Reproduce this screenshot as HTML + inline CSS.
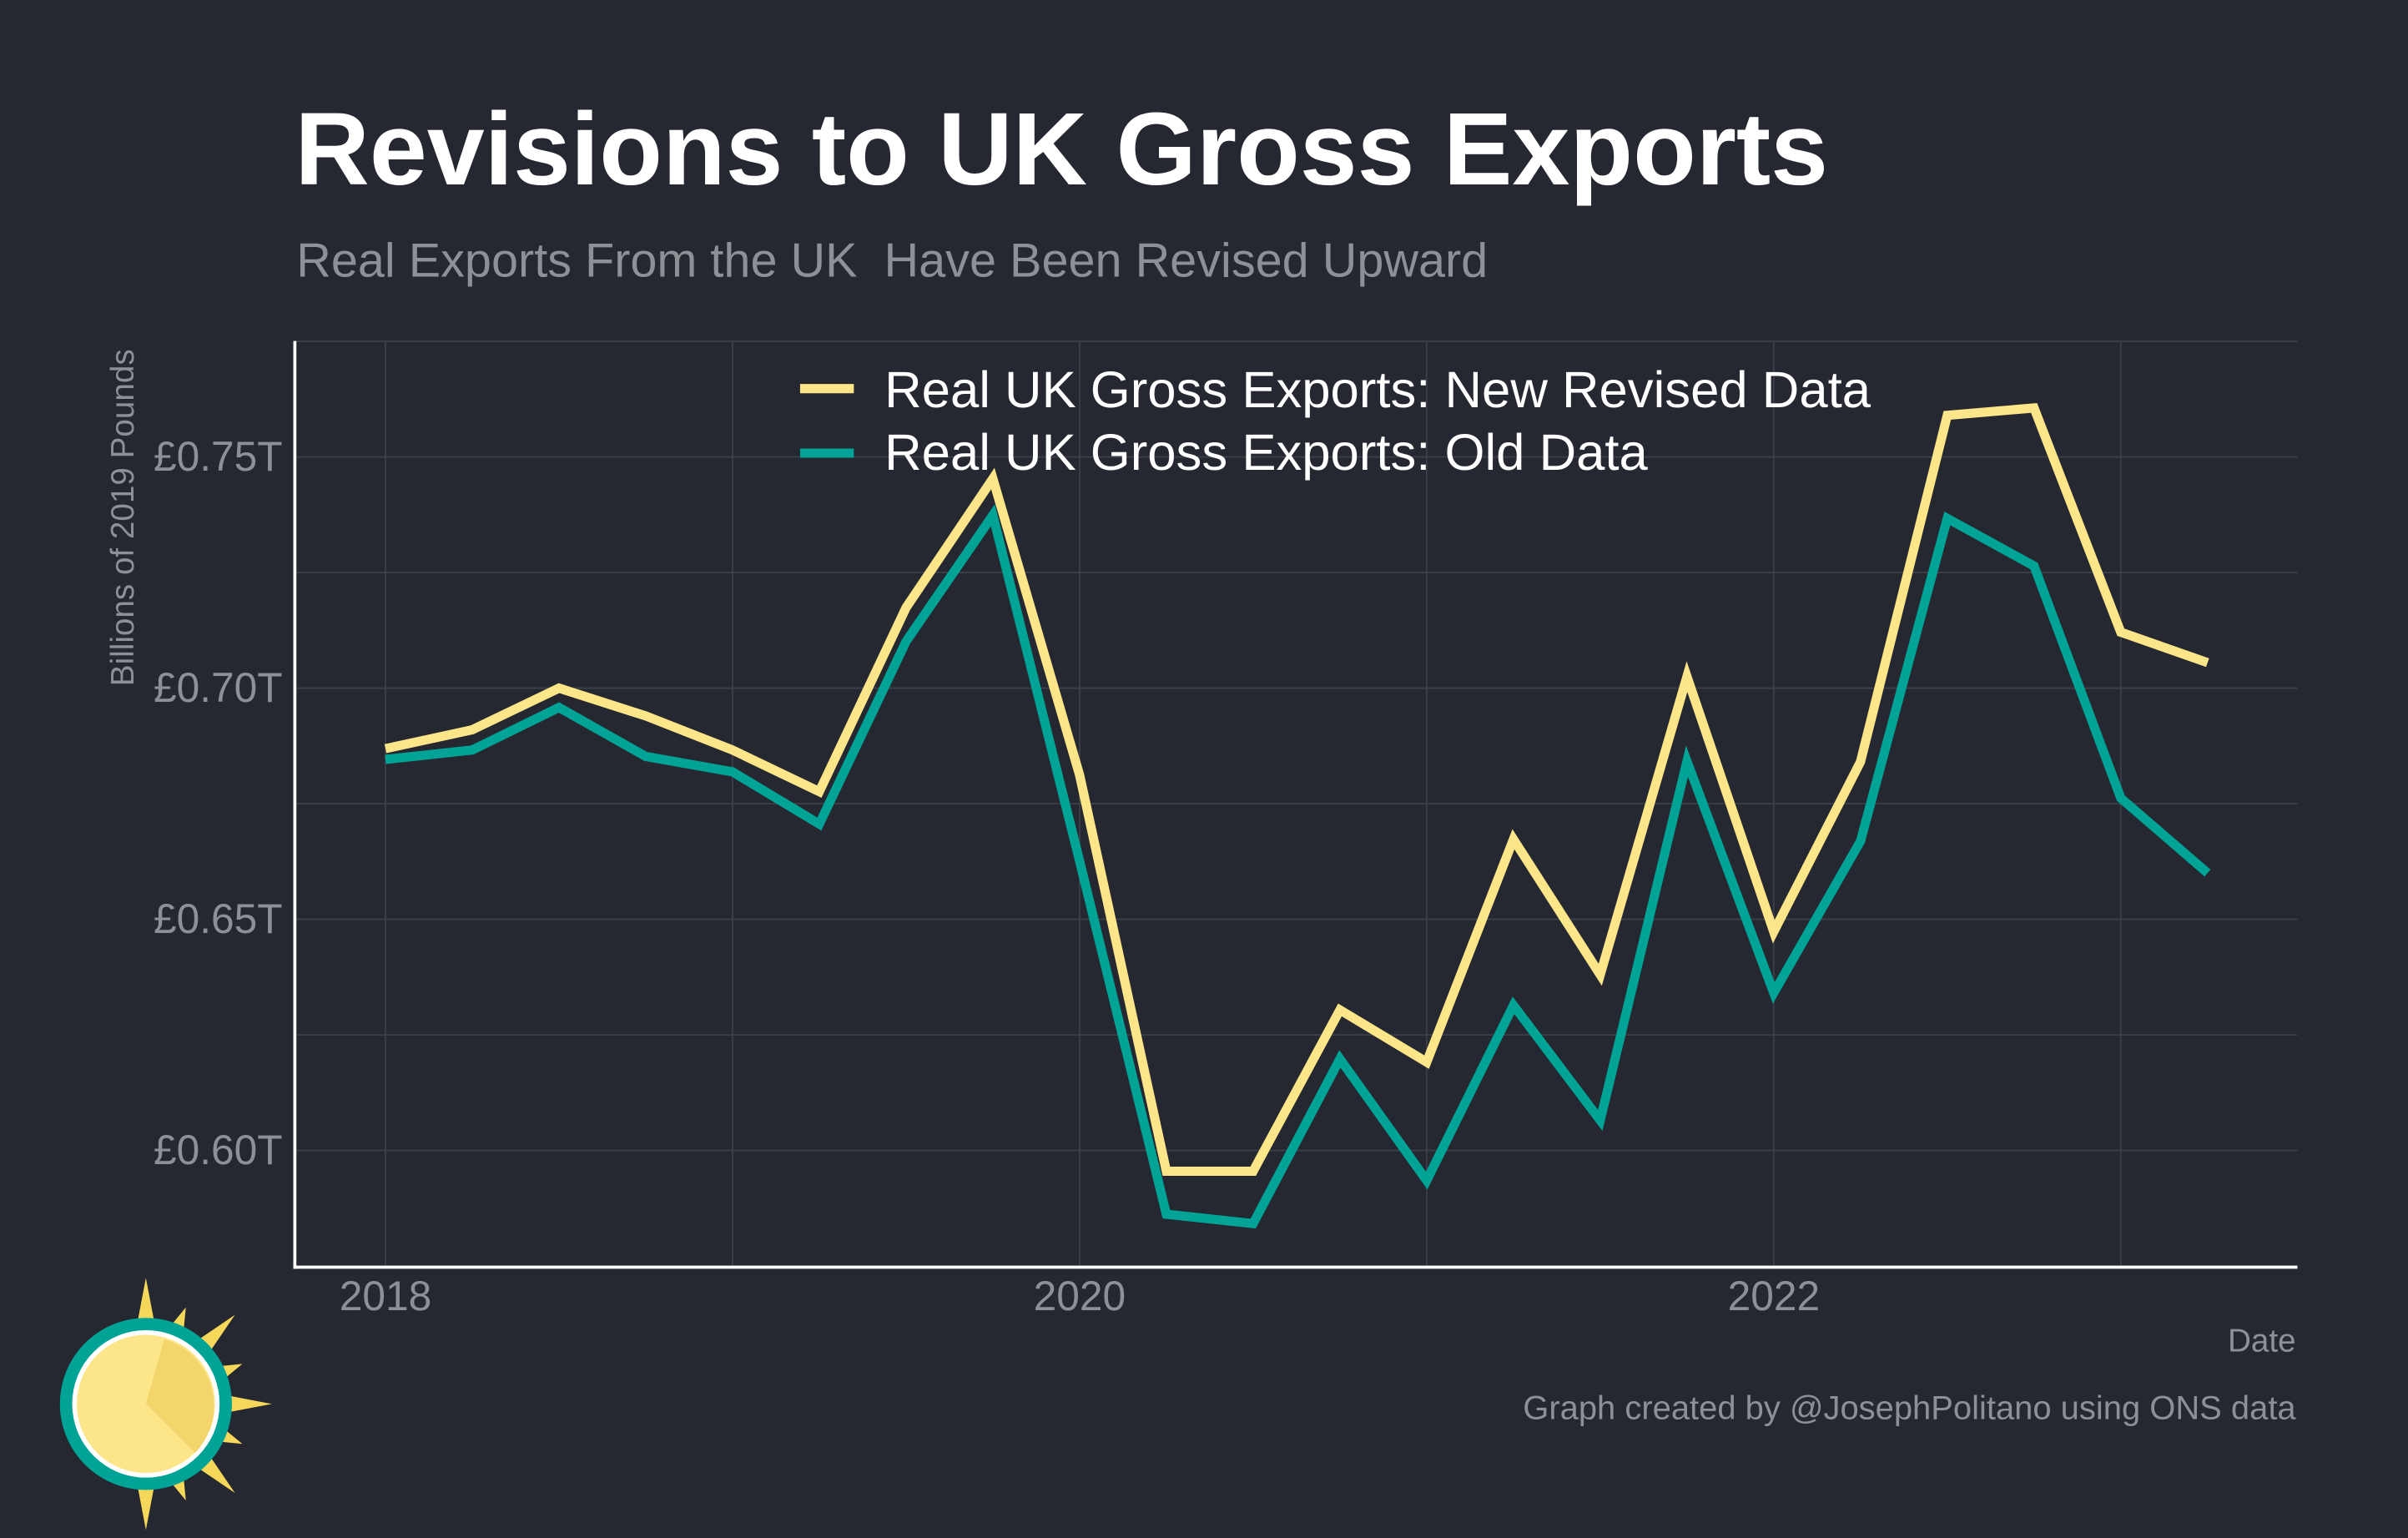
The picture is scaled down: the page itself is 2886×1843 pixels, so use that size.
<!DOCTYPE html>
<html><head><meta charset="utf-8"><style>
html,body{margin:0;padding:0;background:#252830;}
svg{display:block;}
text{font-family:"Liberation Sans",Arial,sans-serif;white-space:pre;}
</style></head><body>
<svg id="chart" width="2886" height="1843" viewBox="0 0 1568 1001.3" preserveAspectRatio="none" xmlns="http://www.w3.org/2000/svg" xml:space="preserve">
<rect x="0" y="0" width="1568" height="1002" fill="#252830"/>
<text x="192" y="120" font-size="67.3" font-weight="bold" fill="#ffffff">Revisions to UK Gross Exports</text>
<text x="193" y="180" font-size="31.3" fill="#8e9096">Real Exports From the UK  Have Been Revised Upward</text>
<g id="grid"></g>
<g id="series"></g>
<line x1="192" y1="222" x2="192" y2="826" stroke="#ffffff" stroke-width="2"/>
<line x1="191" y1="825" x2="1496" y2="825" stroke="#ffffff" stroke-width="2"/>
<g id="yticks"></g>
<g id="xticks"></g>
<text transform="translate(87,337) rotate(-90)" text-anchor="middle" font-size="21" fill="#8e9096">Billions of 2019 Pounds</text>
<text x="1495" y="880" text-anchor="end" font-size="21" fill="#8e9096">Date</text>
<text x="1495" y="924" text-anchor="end" font-size="21.7" fill="#8e9096">Graph created by @JosephPolitano using ONS data</text>
<g>
<line x1="521" y1="253" x2="556" y2="253" stroke="#fde68a" stroke-width="6"/>
<text x="576" y="265" font-size="33.5" fill="#ffffff">Real UK Gross Exports: New Revised Data</text>
<line x1="521" y1="295" x2="556" y2="295" stroke="#00a396" stroke-width="6"/>
<text x="576" y="306" font-size="33.5" fill="#ffffff">Real UK Gross Exports: Old Data</text>
</g>
<g>
<g id="rays" fill="#f5d75a"></g>
<circle cx="95" cy="914" r="56" fill="#00a396"/>
<circle cx="95" cy="914" r="48" fill="#ffffff"/>
<circle cx="95" cy="914" r="45" fill="#fde68a"/>
<path d="M95,914 L107,872 A45,45 0 0 1 127,946 Z" fill="#f2d66b"/>
</g>
</svg>
<script>
const quarters=["2018Q1","2018Q2","2018Q3","2018Q4","2019Q1","2019Q2","2019Q3","2019Q4","2020Q1","2020Q2","2020Q3","2020Q4","2021Q1","2021Q2","2021Q3","2021Q4","2022Q1","2022Q2","2022Q3","2022Q4","2023Q1","2023Q2"];
const newData=[0.6869,0.6910,0.7000,0.6940,0.6866,0.6776,0.7174,0.7453,0.6812,0.5955,0.5955,0.6304,0.6191,0.6673,0.6380,0.7025,0.6473,0.6841,0.7590,0.7606,0.7121,0.7055];
const oldData=[0.6846,0.6866,0.6958,0.6852,0.6819,0.6706,0.7101,0.7374,0.6626,0.5862,0.5842,0.6198,0.5935,0.6314,0.6065,0.6842,0.6341,0.6669,0.7367,0.7264,0.6762,0.6600];
const yTicks=[0.60,0.65,0.70,0.75];
const yTickLabels=["£0.60T","£0.65T","£0.70T","£0.75T"];
const xTicks=[2018,2020,2022];
const NS="http://www.w3.org/2000/svg";
function xScale(t){return 251+(t-2018)*226;}
function yScale(v){return 749-(v-0.60)/0.05*150.5;}
function qTime(i){return 2018+i*0.25;}
function mk(tag,attrs,parent){const e=document.createElementNS(NS,tag);for(const k in attrs)e.setAttribute(k,attrs[k]);parent.appendChild(e);return e;}
const grid=document.getElementById('grid');
for(let v=0.575;v<=0.7751;v+=0.025){
  const y=yScale(v);
  const l=mk('line',{x1:192,x2:1496,y1:y,y2:y,stroke:'#3c3f47','stroke-width':1},grid);
  
  
}
for(let t=2018;t<=2023.01;t+=1){
  const x=xScale(t);
  const l=mk('line',{x1:x,x2:x,y1:222,y2:825,stroke:'#3c3f47','stroke-width':1},grid);
  
  
}
const yt=document.getElementById('yticks');
yTicks.forEach((v,i)=>{
  const t=mk('text',{x:184,y:yScale(v)+9,'text-anchor':'end','font-size':27,fill:'#8e9096'},yt);
  t.textContent=yTickLabels[i];
  
  
});
const xt=document.getElementById('xticks');
xTicks.forEach(v=>{
  const t=mk('text',{x:xScale(v),y:853,'text-anchor':'middle','font-size':27,fill:'#8e9096'},xt);
  t.textContent=String(v);
  
  
});
const ser=document.getElementById('series');
function line(data,color,name){
  const pts=data.map((v,i)=>xScale(qTime(i)).toFixed(1)+','+yScale(v).toFixed(1)).join(' ');
  const p=mk('polyline',{points:pts,fill:'none',stroke:color,'stroke-width':6,'stroke-linejoin':'miter'},ser);
  
  
}
line(oldData,'#00a396','line-old-data');
line(newData,'#fde68a','line-new-revised-data');
const rays=document.getElementById('rays');
for(let k=0;k<9;k++){
  const a=-Math.PI/2+k*Math.PI/8;
  const r1=45,r2=(k%2===0)?82:68,w=0.16;
  const cx=95,cy=914;
  const p=[[cx+r1*Math.cos(a-w),cy+r1*Math.sin(a-w)],[cx+r2*Math.cos(a),cy+r2*Math.sin(a)],[cx+r1*Math.cos(a+w),cy+r1*Math.sin(a+w)]];
  const poly=mk('polygon',{points:p.map(q=>q.join(',')).join(' ')},rays);
  
  
}
</script>
</body></html>
